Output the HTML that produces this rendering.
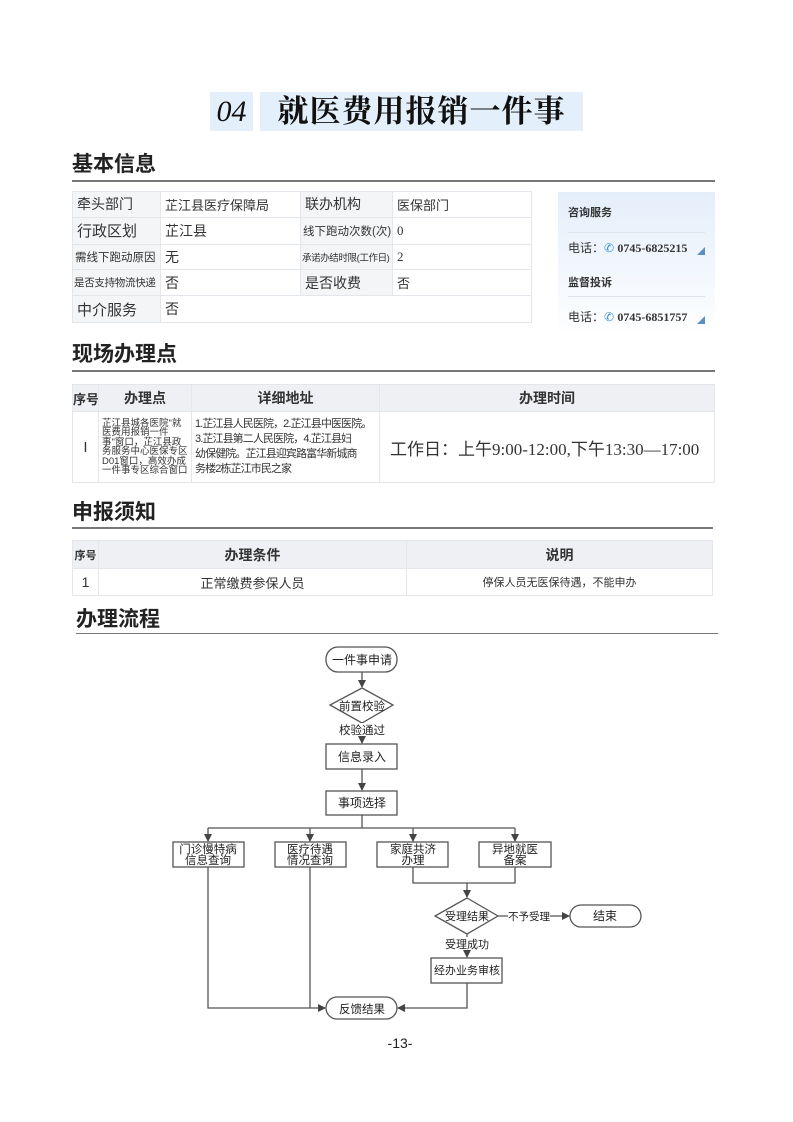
<!DOCTYPE html>
<html><head><meta charset="utf-8"><style>
*{margin:0;padding:0;box-sizing:border-box}
body{width:793px;height:1122px;background:#fff;position:relative;font-family:"Liberation Sans","Noto Sans CJK SC",sans-serif;color:#333;overflow:hidden}
.a{position:absolute}
.h{position:absolute;font-size:21px;font-weight:bold;color:#222;line-height:24px}
.ln{position:absolute;height:2px;background:#777}
table{position:absolute;border-collapse:collapse;table-layout:fixed}
td{border:1px solid #e3e6ea;padding:0 4px;font-size:13px;color:#333;white-space:nowrap;overflow:hidden}
.g{background:#f4f5f7}
th{background:#eef0f3;border:1px solid #e3e6ea;font-size:14px;font-weight:bold;color:#333;white-space:nowrap;overflow:hidden}
</style></head><body>
<div class="a" style="left:210px;top:92px;width:43px;height:39px;background:#e3effb;font-family:'Liberation Serif',serif;font-style:italic;font-size:30px;line-height:39px;text-align:center;color:#111">04</div>
<div class="a" style="left:260px;top:92px;width:323px;height:39px;background:#e3effb;font-family:'Liberation Serif','Noto Serif CJK SC',serif;font-weight:bold;font-size:31px;line-height:39px;text-align:center;color:#111;letter-spacing:1px">就医费用报销一件事</div>

<div class="h" style="left:72px;top:153px">基本信息</div>
<div class="ln" style="left:72px;top:180px;width:643px"></div>
<table style="left:72px;top:191px;width:459px;height:132px">
<colgroup><col style="width:88px"><col style="width:140px"><col style="width:92px"><col style="width:139px"></colgroup>
<tr><td class="g" style="font-size:14px">牵头部门</td><td>芷江县医疗保障局</td><td class="g" style="font-size:14px">联办机构</td><td>医保部门</td></tr>
<tr><td class="g" style="font-size:15px">行政区划</td><td style="font-size:14px">芷江县</td><td class="g" style="font-size:11.5px;padding:0 2px">线下跑动次数(次)</td><td style="font-family:'Liberation Serif',serif">0</td></tr>
<tr><td class="g" style="font-size:11.5px;padding:0 2px">需线下跑动原因</td><td style="font-size:14px">无</td><td class="g" style="font-size:9.5px;padding:0 1px;letter-spacing:-0.4px">承诺办结时限(工作日)</td><td style="font-family:'Liberation Serif',serif">2</td></tr>
<tr><td class="g" style="font-size:10.5px;padding:0 1px;letter-spacing:-0.3px">是否支持物流快递</td><td style="font-size:14px">否</td><td class="g" style="font-size:14px">是否收费</td><td>否</td></tr>
<tr><td class="g" style="font-size:15px">中介服务</td><td colspan="3" style="font-size:14px">否</td></tr>
</table>
<div class="a" style="left:558px;top:192px;width:157px;height:138px;background:linear-gradient(#e4eefa,#fdfeff)">
<div class="a" style="left:10px;top:12px;font-size:11px;font-weight:bold">咨询服务</div>
<div class="a" style="left:10px;top:40px;width:137px;height:1px;background:#dde3ea"></div>
<div class="a" style="left:10px;top:47px;font-size:12px;white-space:nowrap">电话：<span style="color:#3b8fd6">✆</span> <b style="font-family:'Liberation Serif',serif">0745-6825215</b></div>
<div class="a" style="left:139px;top:55px;width:0;height:0;border-left:8px solid transparent;border-bottom:8px solid #5b8fc0"></div>
<div class="a" style="left:10px;top:82px;font-size:11px;font-weight:bold">监督投诉</div>
<div class="a" style="left:10px;top:104px;width:137px;height:1px;background:#dde3ea"></div>
<div class="a" style="left:10px;top:116px;font-size:12px;white-space:nowrap">电话：<span style="color:#3b8fd6">✆</span> <b style="font-family:'Liberation Serif',serif">0745-6851757</b></div>
<div class="a" style="left:139px;top:124px;width:0;height:0;border-left:8px solid transparent;border-bottom:8px solid #5b8fc0"></div>
</div>

<div class="h" style="left:72px;top:343px">现场办理点</div>
<div class="ln" style="left:72px;top:370px;width:643px"></div>
<table style="left:72px;top:384px;width:642px">
<colgroup><col style="width:26px"><col style="width:93px"><col style="width:188px"><col style="width:335px"></colgroup>
<tr style="height:27px"><th style="font-size:13px">序号</th><th>办理点</th><th>详细地址</th><th>办理时间</th></tr>
<tr style="height:71px"><td style="text-align:center;font-size:15px;padding:0">I</td><td style="white-space:normal;font-size:9.5px;line-height:9.5px;padding:2px 3px">芷江县城各医院"就医费用报销一件事"窗口，芷江县政务服务中心医保专区D01窗口，高效办成一件事专区综合窗口</td><td style="font-size:11px;line-height:15px;padding:2px 3px;letter-spacing:-0.9px">1.芷江县人民医院，2.芷江县中医医院。<br>3.芷江县第二人民医院，4.芷江县妇<br>幼保健院。芷江县迎宾路富华新城商<br>务楼2栋芷江市民之家</td><td style="font-size:17px;font-family:'Liberation Serif','Noto Sans CJK SC',serif;padding-left:10px">工作日：上午9:00-12:00,下午13:30—17:00</td></tr>
</table>

<div class="h" style="left:72px;top:501px">申报须知</div>
<div class="ln" style="left:72px;top:527px;width:641px"></div>
<table style="left:72px;top:540px;width:640px">
<colgroup><col style="width:26px"><col style="width:308px"><col style="width:306px"></colgroup>
<tr style="height:28px"><th style="font-size:11px;padding:0">序号</th><th>办理条件</th><th>说明</th></tr>
<tr style="height:27px"><td style="text-align:center;font-size:14px;padding:0">1</td><td style="text-align:center">正常缴费参保人员</td><td style="text-align:center;font-size:11px">停保人员无医保待遇，不能申办</td></tr>
</table>

<div class="h" style="left:76px;top:608px">办理流程</div>
<div class="ln" style="left:76px;top:633px;width:642px;height:1px"></div>

<svg class="a" style="left:0;top:0" width="793" height="1122" font-family="Liberation Sans,Noto Sans CJK SC,sans-serif" font-size="12" fill="none" stroke="#555" stroke-width="1.3">
<defs><marker id="m" markerWidth="8" markerHeight="8" refX="7" refY="4" orient="auto" markerUnits="userSpaceOnUse"><path d="M0,0L8,4L0,8z" fill="#444" stroke="none"/></marker></defs>
<rect x="326" y="647" width="71" height="25" rx="12"/>
<line x1="362" y1="672" x2="362" y2="687" marker-end="url(#m)"/>
<polygon points="362,688 393,705 362,723 330,705"/>
<line x1="362" y1="723" x2="362" y2="743" marker-end="url(#m)"/>
<rect x="326" y="744" width="71" height="25"/>
<line x1="362" y1="769" x2="362" y2="790" marker-end="url(#m)"/>
<rect x="326" y="791" width="71" height="24"/>
<polyline points="362,815 362,828"/>
<line x1="208" y1="828" x2="515" y2="828"/>
<line x1="208" y1="828" x2="208" y2="841" marker-end="url(#m)"/>
<line x1="310" y1="828" x2="310" y2="841" marker-end="url(#m)"/>
<line x1="413" y1="828" x2="413" y2="841" marker-end="url(#m)"/>
<line x1="515" y1="828" x2="515" y2="841" marker-end="url(#m)"/>
<rect x="173" y="842" width="71" height="25"/>
<rect x="275" y="842" width="71" height="25"/>
<rect x="377" y="842" width="71" height="25"/>
<rect x="479" y="842" width="72" height="25"/>
<polyline points="413,867 413,883 515,883 515,867"/>
<line x1="467" y1="883" x2="467" y2="897" marker-end="url(#m)"/>
<polygon points="467,898 498,916 467,934 435,916"/>
<line x1="498" y1="916" x2="569" y2="916" marker-end="url(#m)"/>
<rect x="570" y="905" width="71" height="22" rx="11"/>
<line x1="467" y1="934" x2="467" y2="957" marker-end="url(#m)"/>
<rect x="431" y="958" width="71" height="25"/>
<polyline points="208,867 208,1008 325,1008" marker-end="url(#m)"/>
<line x1="310" y1="867" x2="310" y2="1008"/>
<polyline points="467,983 467,1008 398,1008" marker-end="url(#m)"/>
<rect x="326" y="997" width="71" height="22" rx="11"/>
<g fill="#222" stroke="none" text-anchor="middle">
<text x="362" y="664">一件事申请</text>
<text x="362" y="710" font-size="11.5">前置校验</text>
<rect x="336" y="723" width="52" height="13" fill="#fff"/>
<text x="362" y="734" font-size="11.5">校验通过</text>
<text x="362" y="761">信息录入</text>
<text x="362" y="807">事项选择</text>
<text x="208" y="853" font-size="11.5">门诊慢特病</text><text x="208" y="864" font-size="11.5">信息查询</text>
<text x="310" y="853" font-size="11.5">医疗待遇</text><text x="310" y="864" font-size="11.5">情况查询</text>
<text x="413" y="853" font-size="11.5">家庭共济</text><text x="413" y="864" font-size="11.5">办理</text>
<text x="515" y="853" font-size="11.5">异地就医</text><text x="515" y="864" font-size="11.5">备案</text>
<text x="467" y="920" font-size="11">受理结果</text>
<rect x="508" y="909" width="42" height="13" fill="#fff"/>
<text x="529" y="920" font-size="10.5">不予受理</text>
<text x="605" y="920">结束</text>
<rect x="442" y="937" width="50" height="13" fill="#fff"/>
<text x="467" y="948" font-size="11">受理成功</text>
<text x="467" y="974" font-size="11">经办业务审核</text>
<text x="362" y="1013" font-size="11.5">反馈结果</text>
<text x="400" y="1048" font-size="14">-13-</text>
</g>
</svg>
</body></html>
